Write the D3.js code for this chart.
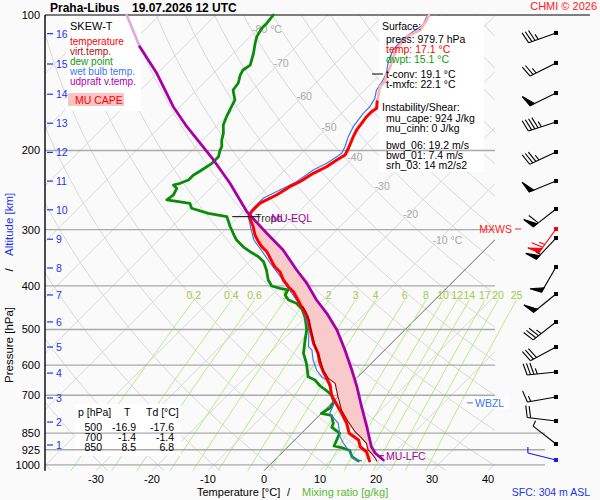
<!DOCTYPE html>
<html><head><meta charset="utf-8">
<script src="https://cdn.jsdelivr.net/npm/d3@7/dist/d3.min.js"></script>
<style>
html,body{margin:0;padding:0;background:#fafafa;}
svg{display:block;font-family:"Liberation Sans",Arial,Helvetica,sans-serif;}
</style></head><body>
<svg id="chart" width="600" height="500"></svg>
<script>
// ---------------- data ----------------
const stationName = "Praha-Libus";
const runLabel = "19.07.2026 12 UTC";
const pressureTicks = [100,200,300,400,500,600,700,850,925,1000];
const tempTicks = [-30,-20,-10,0,10,20,30,40];
const isothermLabelT = [-80,-70,-60,-50,-40,-30,-20,-10];
const mixingRatios = [0.2,0.4,0.6,1,1.4,2,3,4,6,8,10,12,14,17,20,25];
const altKm = [1,2,3,4,5,6,7,8,9,10,11,12,13,14,15,16];
const altP  = [903,803,710,625,547,481,419,365,315,271,234,202,174,150,128.5,110];

const tempP = [100,102.6,108.0,111.7,118.6,123.8,131.4,135.9,140.7,144.3,151.9,155.8,161.2,164.0,168.3,174.1,180.1,186.4,197.8,204.7,210.0,217.4,224.8,234.7,240.8,251.2,260.0,262.1,273.7,280.7,295.5,308.3,319.0,327.3,335.8,353.4,362.6,372.0,388.1,401.7,412.1,430.0,445.0,456.5,476.3,497.0,536.7,565.0,594.5,620.6,642.0,664.3,700,735.9,767.9,808.1,850,880.2,911.0,934.6,958.8,979.7];
const tempT = [-51.9,-51.4,-50.8,-52.0,-51.7,-50.8,-49.4,-48.8,-47.9,-47.9,-46.4,-45.7,-44.6,-44.9,-44.9,-44.6,-44.3,-43.7,-42.5,-41.9,-42.5,-43.1,-44.3,-45.2,-46.1,-47.0,-48.2,-48.5,-48.5,-48.0,-45.5,-43.7,-41.9,-40.4,-38.6,-35.9,-34.5,-32.7,-30.6,-28.5,-26.7,-24.4,-22.6,-21.1,-19.0,-17.2,-13.9,-11.3,-9.2,-7.1,-5.3,-3.5,-1.4,1.3,3.6,6.3,8.5,11.4,12.9,14.9,16.1,17.1];

const virtP = [445.0,468.3,509.8,546.0,579.4,615.2,642.0,658.6,705.3,755.0,801.6,843.7,872.6,895.3,926.5,942.3,965.3,979.7];
const virtT = [-22.3,-19.6,-16.0,-13.0,-10.1,-7.4,-5.0,-2.9,0.0,3.0,6.3,9.3,11.7,13.4,14.9,16.1,17.6,18.4];

const dewP = [100,104.3,107.0,111.7,115.6,121.7,129.2,132.5,135.9,141.8,146.8,154.5,159.9,168.3,175.6,183.2,189.6,196.2,199.5,206.5,213.6,221.1,227.0,232.7,236.6,238.7,242.8,251.2,257.7,260.0,262.1,268.9,275.9,280.7,295.5,305.6,316.3,327.9,335.8,344.5,353.4,368.8,388.1,400.2,405.0,408.5,419.1,430.0,437.3,450.2,471.5,501.3,527.7,565.0,594.5,636.7,647.5,667.7,688.5,700,724.7,747.3,767.9,776.5,808.1,825.6,840.6,850,880.2,907.7,914.7,928.8,958.8,970.2,979.7];
const dewT = [-79.7,-79.4,-79.4,-78.8,-77.9,-76.4,-74.9,-75.3,-74.9,-73.8,-73.5,-71.4,-70.8,-69.9,-69.0,-67.5,-66.6,-65.4,-65.1,-64.2,-64.2,-64.8,-65.4,-65.4,-66.3,-67.2,-66.0,-65.4,-65.7,-63.3,-61.0,-59.8,-55.9,-52.0,-49.6,-47.9,-46.1,-43.6,-41.6,-39.2,-37.4,-35.4,-33.3,-31.6,-29.7,-28.0,-27.6,-26.1,-24.1,-22.1,-19.9,-17.5,-16.0,-13.9,-11.6,-8.9,-7.1,-5.1,-2.6,-1.4,0.2,0.6,0.0,2.2,3.9,4.4,5.9,6.8,7.5,8.1,9.7,11.7,13.2,14.2,15.1];

const wetP = [100.9,105.3,112.5,119.6,127.2,134.8,139.5,146.8,153.2,159.9,165.4,171.2,177.1,186.4,196.2,202.9,206.5,213.6,221.1,234.7,244.9,255.5,268.9,278.3,297.5,316.3,334.6,355.8,380.3,406.5,434.4,462.0,501.3,546.0,555.3,584.5,615.2,636.7,647.5,674.6,700,732.1,767.9,808.1,865.6,895.3,926.5,958.8,972.6,979.7];
const wetT = [-52.0,-51.2,-52.3,-52.1,-50.8,-49.1,-48.5,-47.9,-46.7,-46.1,-46.1,-45.8,-45.5,-44.6,-43.4,-42.8,-43.1,-43.7,-44.9,-45.8,-47.3,-48.8,-48.8,-48.5,-45.7,-43.0,-39.6,-36.0,-31.9,-28.0,-24.1,-20.7,-17.1,-14.2,-13.0,-11.0,-8.6,-6.5,-5.0,-3.0,-1.4,0.6,1.5,4.8,7.5,9.3,11.4,13.2,14.3,15.7];

const parcelP = [100,117.6,134.8,159.9,177.1,210.0,236.6,273.7,305.6,332.9,368.8,394.8,430.0,460.2,501.3,555.3,615.2,670.2,742.4,822.3,911.0,940.9,975.2];
const parcelT = [-105.9,-97.9,-90.1,-81.2,-75.2,-64.5,-57.4,-49.3,-41.9,-36.0,-30.0,-25.8,-21.1,-16.9,-12.1,-7.1,-2.3,1.6,6.0,10.5,14.9,16.7,19.4];

const barbP   = [109.6,127.8,149.1,172.9,201.6,233.9,269.9,299.0,313.1,363.2,417.0,481.2,547.0,621.5,706.4,798.6,898.4,975.2];
const barbDir = [250,243,244,252,245,248,232,216,223,210,231,232,242,264,260,277,308,284];
const barbSpd = [35,25,50,45,35,50,60,65,55,50,50,35,30,35,15,20,5,5];

const tableP  = [500,700,850];
const tableT  = [-16.9,-1.4,8.5];
const tableTd = [-17.6,-1.4,6.8];

const surfaceLines = [
  ["press: 979.7 hPa","#000"],["temp: 17.1 °C","#ff0000"],["dwpt: 15.1 °C","#119911"]];
const convLines = ["t-conv: 19.1 °C","t-mxfc: 22.1 °C"];
const instLines = ["mu_cape: 924 J/kg","mu_cinh: 0 J/kg"];
const shearLines = ["bwd_06: 19.2 m/s","bwd_01: 7.4 m/s","srh_03: 14 m2/s2"];

const tropoP = 280.7, eqlP = 280.7, lfcP = 954, wbzlP = 728, mxwsP = 299;
const tempFadeP = 155.8, parcelFadeP = 117.6;

// ---------------- scales ----------------
const P_TOP = 100, P_BOT = 1030;
const yP = d3.scaleLog().domain([P_TOP, P_BOT]).range([15, 470.7]);
const xT = d3.scaleLinear().domain([0, 10]).range([264, 320]);
const Y0 = yP(P_BOT);
const X = (T, p) => xT(T) + (Y0 - yP(p));
const plotL = 45, plotR = 495, plotT = 15, plotB = Y0;

const svg = d3.select('#chart');
svg.append('rect').attr('width',600).attr('height',500).attr('fill','#fafafa');

const defs = svg.append('defs');
defs.append('clipPath').attr('id','clip').append('rect')
  .attr('x',plotL).attr('y',plotT).attr('width',plotR-plotL).attr('height',plotB-plotT);

// ---------------- grid ----------------
const grid = svg.append('g').attr('clip-path','url(#clip)');
const pSamples = d3.range(0,61).map(i => P_BOT*Math.pow(P_TOP/P_BOT, i/60));
d3.range(-40,220,10).forEach(th => {
  const pts = pSamples.map(p => [X((th+273.15)*Math.pow(p/1000,0.2857)-273.15, p), yP(p)]);
  grid.append('path').attr('d', d3.line()(pts)).attr('fill','none').attr('stroke','#d8d8d8').attr('stroke-width',1);
});
d3.range(-170,60,10).forEach(T => {
  if (T === 0) return;
  grid.append('line').attr('x1',X(T,P_BOT)).attr('y1',Y0).attr('x2',X(T,P_TOP)).attr('y2',yP(P_TOP))
    .attr('stroke','#d8d8d8').attr('stroke-width',1);
});
grid.append('line').attr('x1',X(0,P_BOT)).attr('y1',Y0).attr('x2',X(0,P_TOP)).attr('y2',yP(P_TOP))
  .attr('stroke','#666').attr('stroke-width',1);

// mixing ratio lines
function mixT(w,p){ const e = w*p/(622+w); const l = Math.log(e/6.112); return 243.5*l/(17.67-l); }
const mrTop = 430;
const mrP = d3.range(0,13).map(i => P_BOT*Math.pow(mrTop/P_BOT, i/12));
const mrG = svg.append('g');
mixingRatios.forEach(w => {
  const pts = mrP.map(p => [X(mixT(w,p),p), yP(p)]);
  mrG.append('path').attr('d', d3.line()(pts)).attr('fill','none').attr('stroke','#b4ee86').attr('stroke-width',1);
  mrG.append('text').attr('x', X(mixT(w,mrTop),mrTop)).attr('y', yP(mrTop)-1)
    .attr('text-anchor','middle').attr('font-size',10.5).attr('fill','#9ccc44').text(String(w));
});

// isotherm labels along theta = 365 K
isothermLabelT.forEach(T => {
  const p = 1000*Math.pow((T+273.15)/365, 1/0.2857);
  const lab = (T === -80 || T === -10) ? T + " °C" : String(T);
  svg.append('text').attr('x', X(T,p)-5).attr('y', yP(p)+3)
    .attr('font-size',10.5).attr('fill','#a8a8a8').text(lab);
});

// ---------------- boxes ----------------
svg.append('rect').attr('x',66).attr('y',16).attr('width',75).attr('height',95).attr('fill','#fff');
svg.append('rect').attr('x',379).attr('y',16).attr('width',105).attr('height',156).attr('fill','#fff');
svg.append('rect').attr('x',75).attr('y',404).attr('width',106).attr('height',52).attr('fill','#fff');

// pressure lines
pressureTicks.forEach(p => {
  if (p === P_TOP) return;
  svg.append('line').attr('x1',plotL).attr('x2', p >= 850 ? 545 : plotR)
    .attr('y1',yP(p)).attr('y2',yP(p)).attr('stroke','#aaa').attr('stroke-width',1.4);
});

// axes frame
svg.append('line').attr('x1',plotL).attr('x2',590).attr('y1',plotT).attr('y2',plotT).attr('stroke','#000').attr('stroke-width',1.2);
svg.append('line').attr('x1',plotL).attr('x2',plotL).attr('y1',plotT).attr('y2',plotB).attr('stroke','#000').attr('stroke-width',1.4);

// ---------------- profiles ----------------
const zip = (P,T) => P.map((p,i) => ({p, T: T[i]}));
const line = d3.line().x(d => X(d.T,d.p)).y(d => yP(d.p)).curve(d3.curveLinear);
function interp(P,T,p){
  for (let i=0;i<P.length-1;i++){
    if (p>=P[i] && p<=P[i+1]){ const f = Math.log(p/P[i])/Math.log(P[i+1]/P[i]); return T[i]+f*(T[i+1]-T[i]); }
  }
  return p < P[0] ? T[0] : T[T.length-1];
}
// CAPE area: parcel vs environment (virtual temp below, temp above)
const envPts = zip(tempP,tempT).filter(d => d.p < virtP[0]).concat(zip(virtP,virtT));
const envP = envPts.map(d=>d.p), envT = envPts.map(d=>d.T);
const capePoly = [];
capePoly.push({p:eqlP, T: interp(parcelP,parcelT,eqlP)});
zip(parcelP,parcelT).filter(d => d.p>eqlP && d.p<lfcP).forEach(d => capePoly.push(d));
capePoly.push({p:lfcP, T: interp(parcelP,parcelT,lfcP)});
capePoly.push({p:lfcP, T: interp(envP,envT,lfcP)});
envPts.filter(d => d.p>eqlP && d.p<lfcP).reverse().forEach(d => capePoly.push(d));
capePoly.push({p:eqlP, T: interp(envP,envT,eqlP)});
svg.append('path').attr('d', line(capePoly)+'Z').attr('fill','#f8caca').attr('stroke','none');

const prof = svg.append('g').attr('fill','none').attr('stroke-linejoin','round').attr('stroke-linecap','round');
prof.append('path').attr('d', line(zip(dewP,dewT))).attr('stroke','#0a8c0a').attr('stroke-width',2.8);
prof.append('path').attr('d', line(zip(wetP,wetT))).attr('stroke','#3a78f0').attr('stroke-width',1.2);
const tAll = zip(tempP,tempT);
prof.append('path').attr('d', line(tAll.filter(d => d.p <= tempFadeP))).attr('stroke','#ffb0b0').attr('stroke-width',2.6);
prof.append('path').attr('d', line(tAll.filter(d => d.p >= tempFadeP))).attr('stroke','#ff0000').attr('stroke-width',3);
prof.append('path').attr('d', line(zip(virtP,virtT))).attr('stroke','#9a0000').attr('stroke-width',1.1);
const pAll = zip(parcelP,parcelT);
prof.append('path').attr('d', line(pAll.filter(d => d.p <= parcelFadeP))).attr('stroke','#e0a8e0').attr('stroke-width',2.6);
prof.append('path').attr('d', line(pAll.filter(d => d.p >= parcelFadeP))).attr('stroke','#a800a8').attr('stroke-width',2.8);

// ---------------- annotations ----------------
const fs = 10.5;
const tTropo = interp(tempP,tempT,tropoP);
const yTr = yP(tropoP);
svg.append('line').attr('x1',X(tTropo,tropoP)-17).attr('x2',X(tTropo,tropoP)+11).attr('y1',yTr).attr('y2',yTr).attr('stroke','#000');
svg.append('text').attr('x',X(tTropo,tropoP)+6).attr('y',yTr+5).attr('font-size',fs).attr('fill','#333').text('Tropo');
svg.append('text').attr('x',X(tTropo,tropoP)+22).attr('y',yP(eqlP)+5).attr('font-size',fs).attr('fill','#a000a0').text('MU-EQL');
const yL = yP(lfcP);
svg.append('line').attr('x1',377).attr('x2',384).attr('y1',yL).attr('y2',yL).attr('stroke','#a000a0').attr('stroke-width',1.2);
svg.append('text').attr('x',386).attr('y',yL+4.5).attr('font-size',fs).attr('fill','#a000a0').text('MU-LFC');
const yW = yP(wbzlP);
svg.append('rect').attr('x',465).attr('y',yW-6).attr('width',44).attr('height',12).attr('fill','#fff');
svg.append('line').attr('x1',467).attr('x2',473).attr('y1',yW).attr('y2',yW).attr('stroke','#3a78f0');
svg.append('text').attr('x',475).attr('y',yW+4).attr('font-size',fs).attr('fill','#3a78f0').text('WBZL');
const yM = yP(mxwsP);
svg.append('text').attr('x',512).attr('y',yM+4).attr('text-anchor','end').attr('font-size',fs).attr('fill','#ff2020').text('MXWS');
svg.append('line').attr('x1',515).attr('x2',521).attr('y1',yM).attr('y2',yM).attr('stroke','#ff2020');

// ---------------- axes text ----------------
svg.append('text').attr('x',50).attr('y',12).attr('font-size',12).attr('font-weight','bold').text(stationName);
svg.append('text').attr('x',132).attr('y',12).attr('font-size',12).attr('font-weight','bold').text(runLabel);
svg.append('text').attr('x',597).attr('y',10).attr('text-anchor','end').attr('font-size',11).attr('fill','#ff2020').text('CHMI © 2026');

pressureTicks.forEach(p => {
  svg.append('text').attr('x',40).attr('y',yP(p)+4).attr('text-anchor','end').attr('font-size',11).text(p);
});
altKm.forEach((k,i) => {
  const yy = yP(altP[i]);
  svg.append('line').attr('x1',47).attr('x2',53).attr('y1',yy).attr('y2',yy).attr('stroke','#2233ee').attr('stroke-width',1.2);
  svg.append('text').attr('x',56).attr('y',yy+4).attr('font-size',10.5).attr('fill','#2233ee').text(k);
});
tempTicks.forEach(T => {
  svg.append('text').attr('x',xT(T)).attr('y',483).attr('text-anchor','middle').attr('font-size',11).text(T);
});
svg.append('text').attr('x',197).attr('y',496).attr('font-size',11).text('Temperature [°C]');
svg.append('text').attr('x',287).attr('y',496).attr('font-size',11).text('/');
svg.append('text').attr('x',302).attr('y',496).attr('font-size',11).attr('fill','#55bb33').text('Mixing ratio [g/kg]');
svg.append('text').attr('x',590).attr('y',496).attr('text-anchor','end').attr('font-size',10.5).attr('fill','#2233ee').text('SFC: 304 m ASL');

svg.append('text').attr('transform','translate(13,383) rotate(-90)').attr('font-size',11.5).text('Pressure [hPa]');
svg.append('text').attr('transform','translate(13,270) rotate(-90)').attr('text-anchor','middle').attr('font-size',11.5).text('/');
svg.append('text').attr('transform','translate(13,256) rotate(-90)').attr('font-size',11.5).attr('fill','#2233ee').text('Altitude [km]');

// legend
svg.append('text').attr('x',70).attr('y',30).attr('font-size',11).text('SKEW-T');
[["temperature","#ff0000"],["virt.temp.","#aa1111"],["dew point","#119911"],["wet bulb temp.","#3a78f0"],["udpraft v.temp.","#b000b0"]]
  .forEach((d,i) => svg.append('text').attr('x',70).attr('y',45+i*10).attr('font-size',10).attr('fill',d[1]).text(d[0]));
svg.append('rect').attr('x',68).attr('y',93).attr('width',56).attr('height',13).attr('fill','#f8c4c4');
svg.append('text').attr('x',75).attr('y',104).attr('font-size',10.5).attr('fill','#ff0000').text('MU CAPE');

// surface box
svg.append('text').attr('x',382).attr('y',30).attr('font-size',10.5).text('Surface:');
surfaceLines.forEach((d,i) => svg.append('text').attr('x',386).attr('y',43+i*10).attr('font-size',10.5).attr('fill',d[1]).text(d[0]));
svg.append('line').attr('x1',372).attr('x2',383).attr('y1',74).attr('y2',74).attr('stroke','#000');
convLines.forEach((t,i) => svg.append('text').attr('x',386).attr('y',78+i*10).attr('font-size',10.5).text(t));
svg.append('text').attr('x',382).attr('y',111).attr('font-size',10.5).text('Instability/Shear:');
instLines.forEach((t,i) => svg.append('text').attr('x',386).attr('y',122+i*10).attr('font-size',10.5).text(t));
shearLines.forEach((t,i) => svg.append('text').attr('x',386).attr('y',149+i*10).attr('font-size',10.5).text(t));

// table
svg.append('text').attr('x',78).attr('y',416).attr('font-size',10.5).text('p [hPa]');
svg.append('text').attr('x',124).attr('y',416).attr('font-size',10.5).text('T');
svg.append('text').attr('x',146).attr('y',416).attr('font-size',10.5).text('Td [°C]');
tableP.forEach((p,i) => {
  const yy = 431 + i*10;
  svg.append('text').attr('x',102).attr('y',yy).attr('text-anchor','end').attr('font-size',10.5).text(p);
  svg.append('text').attr('x',136).attr('y',yy).attr('text-anchor','end').attr('font-size',10.5).text(tableT[i].toFixed(1));
  svg.append('text').attr('x',174).attr('y',yy).attr('text-anchor','end').attr('font-size',10.5).text(tableTd[i].toFixed(1));
});

// ---------------- wind barbs ----------------
const barbX = 556;
const maxSpd = d3.max(barbSpd);
const bg = svg.append('g');
function drawBarb(cx, cy, dir, spd, color){
  const r = dir*Math.PI/180;
  const ux = Math.sin(r), uy = -Math.cos(r);
  const L = 29, FL = 12, step = 3.4;
  const nx = -uy, ny = ux;
  const fx = nx*0.97 + ux*0.24, fy = ny*0.97 + uy*0.24;
  const g = bg.append('g').attr('stroke',color).attr('fill',color).attr('stroke-width',1.1);
  g.append('line').attr('x1',cx).attr('y1',cy).attr('x2',cx+ux*L).attr('y2',cy+uy*L);
  g.append('rect').attr('x',cx-2).attr('y',cy-2).attr('width',4).attr('height',4).attr('stroke','none');
  let s = L, rem = Math.round(spd/5)*5;
  while (rem >= 50){
    const bx = cx+ux*s, by = cy+uy*s, bx2 = cx+ux*(s-5), by2 = cy+uy*(s-5);
    g.append('path').attr('d', `M${bx},${by}L${bx+fx*FL},${by+fy*FL}L${bx2},${by2}Z`);
    s -= 6.5; rem -= 50;
  }
  while (rem >= 10){
    const bx = cx+ux*s, by = cy+uy*s;
    g.append('line').attr('x1',bx).attr('y1',by).attr('x2',bx+fx*FL).attr('y2',by+fy*FL);
    s -= step; rem -= 10;
  }
  if (rem >= 5){
    const bx = cx+ux*s, by = cy+uy*s;
    g.append('line').attr('x1',bx).attr('y1',by).attr('x2',bx+fx*FL*0.5).attr('y2',by+fy*FL*0.5);
  }
}
const barbOrder = d3.range(barbP.length).sort((a,b) => (barbSpd[a]===maxSpd) - (barbSpd[b]===maxSpd));
barbOrder.forEach(i => {
  const col = i === barbP.length-1 ? '#1a1aee' : (barbSpd[i] === maxSpd ? '#ff0000' : '#000');
  drawBarb(barbX, yP(barbP[i]), barbDir[i], barbSpd[i], col);
});
</script>
</body></html>
